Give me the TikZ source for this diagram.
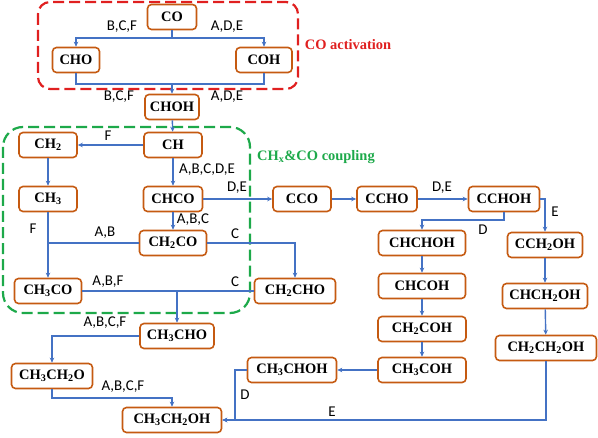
\documentclass[tikz,border=0pt]{standalone}
\usepackage{fontspec}
\setmainfont{Liberation Serif}
\newfontfamily\labfont{Carlito}
\usetikzlibrary{arrows.meta}
\definecolor{lineblue}{HTML}{4472C4}
\definecolor{boxbrown}{HTML}{C55A11}
\definecolor{dashred}{HTML}{E02020}
\definecolor{dashgreen}{HTML}{1DA94A}
\begin{document}
\begin{tikzpicture}[x=1bp,y=-1bp,
  box/.style={draw=boxbrown,line width=1.6bp,rounded corners=4bp,fill=white,
    minimum height=25bp,inner sep=0pt,font=\fontsize{14.5}{16}\selectfont\bfseries},
  lab/.style={inner sep=0pt,font=\labfont\fontsize{15}{16}\selectfont},
  conn/.style={draw=lineblue,line width=1.4bp},
  arr/.style={conn,-{Stealth[length=5bp,width=4.5bp]}},
  region/.style={line width=2.2bp,dash pattern=on 11bp off 5bp}]
\useasboundingbox (0,0) rectangle (598,438);
% dashed regions
\draw[region,draw=dashred,rounded corners=12bp] (38,2) rectangle (298,89);
\draw[region,draw=dashgreen,rounded corners=20bp] (3,127) rectangle (250,313);
\node[inner sep=0pt,text=dashred,font=\fontsize{14.5}{16}\selectfont\bfseries] (tact) at (348,45) {CO activation};
\node[inner sep=0pt,text=dashgreen,font=\fontsize{14.5}{16}\selectfont\bfseries] (tcoup) at (316,157) {CH\textsubscript{x}\&CO coupling};
% nodes
\node[box,minimum width=49bp] (CO) at (172,17) {CO};
\node[box,minimum width=47bp] (CHO) at (76,60) {CHO};
\node[box,minimum width=56bp] (COH) at (264,60) {COH};
\node[box,minimum width=54bp] (CHOH) at (172,107) {CHOH};
\node[box,minimum width=58bp] (CH2) at (48,145) {CH\textsubscript{2}};
\node[box,minimum width=58bp] (CH) at (173,145) {CH};
\node[box,minimum width=58bp] (CH3) at (48,199) {CH\textsubscript{3}};
\node[box,minimum width=59bp] (CHCO) at (173,199) {CHCO};
\node[box,minimum width=67bp] (CH2CO) at (173,243) {CH\textsubscript{2}CO};
\node[box,minimum width=67bp] (CH3CO) at (48,291) {CH\textsubscript{3}CO};
\node[box,minimum width=81bp] (CH2CHO) at (295,291) {CH\textsubscript{2}CHO};
\node[box,minimum width=58bp] (CCO) at (302,199) {CCO};
\node[box,minimum width=60bp] (CCHO) at (387,199) {CCHO};
\node[box,minimum width=71bp] (CCHOH) at (504,199) {CCHOH};
\node[box,minimum width=87bp] (CHCHOH) at (422,243) {CHCHOH};
\node[box,minimum width=75bp] (CCH2OH) at (545,245) {CCH\textsubscript{2}OH};
\node[box,minimum width=87bp] (CHCOH) at (422,286) {CHCOH};
\node[box,minimum width=85bp] (CHCH2OH) at (545,296) {CHCH\textsubscript{2}OH};
\node[box,minimum width=88bp] (CH2COH) at (422,329) {CH\textsubscript{2}COH};
\node[box,minimum width=88bp] (CH3COH) at (422,370) {CH\textsubscript{3}COH};
\node[box,minimum width=89bp] (CH3CHOH) at (292,370) {CH\textsubscript{3}CHOH};
\node[box,minimum width=101bp] (CH2CH2OH) at (546,348) {CH\textsubscript{2}CH\textsubscript{2}OH};
\node[box,minimum width=74bp] (CH3CHO) at (177,336) {CH\textsubscript{3}CHO};
\node[box,minimum width=81bp] (CH3CH2O) at (52,376) {CH\textsubscript{3}CH\textsubscript{2}O};
\node[box,minimum width=99bp] (CH3CH2OH) at (172,420) {CH\textsubscript{3}CH\textsubscript{2}OH};
% junctions
\coordinate (s1) at (172,38);
\coordinate (j1) at (172,84);
\coordinate (j2) at (48,243);
\coordinate (j3) at (177,291);
\coordinate (j4) at (172,398);
\coordinate (j5) at (235,420);
\coordinate (j6) at (504,220);
% connectors
\draw[conn] (CO.south) -- (s1);
\draw[arr] (s1) -| (CHO.north);
\draw[arr] (s1) -| (COH.north);
\draw[conn] (CHO.south) |- (j1) -| (COH.south);
\draw[arr] (j1) -- (CHOH.north);
\draw[arr] (CHOH) -- (CH);
\draw[arr] (CH) -- (CH2);
\draw[arr] (CH2) -- (CH3);
\draw[arr] (CH) -- (CHCO);
\draw[arr] (CHCO) -- (CCO);
\draw[arr] (CHCO) -- (CH2CO);
\draw[arr] (CH3) -- (CH3CO);
\draw[conn] (CH2CO.west) -- (j2);
\draw[arr] (CH2CO.east) -| (CH2CHO.north);
\draw[conn] (CH3CO.east) -- (CH2CHO.west);
\draw[arr] (j3) -- (CH3CHO.north);
\draw[arr] (CH3CHO.west) -| (CH3CH2O.north);
\draw[arr] (CH3CH2O.south) |- (j4) -- (CH3CH2OH.north);
\draw[arr] (CCO) -- (CCHO);
\draw[arr] (CCHO) -- (CCHOH);
\draw[arr] (CCHOH.south) -- (j6) -| (CHCHOH.north);
\draw[arr] (CCHOH.east) -| (CCH2OH.north);
\draw[arr] (CHCHOH) -- (CHCOH);
\draw[arr] (CHCOH) -- (CH2COH);
\draw[arr] (CH2COH) -- (CH3COH);
\draw[arr] (CH3COH) -- (CH3CHOH);
\draw[arr] (CCH2OH) -- (CHCH2OH);
\draw[arr] (CHCH2OH) -- (CH2CH2OH);
\draw[arr] (CH2CH2OH.south) |- (CH3CH2OH.east);
\draw[arr] (CH3CHOH.west) -| (j5) -- (CH3CH2OH.east);
% labels
\node[lab] (l1) at (122,27) {B,C,F};
\node[lab] (l2) at (227,27) {A,D,E};
\node[lab] (l3) at (119,97) {B,C,F};
\node[lab] (l4) at (227,97) {A,D,E};
\node[lab] (l5) at (108,136) {F};
\node[lab] (l6) at (207,170) {A,B,C,D,E};
\node[lab] (l7) at (237,188) {D,E};
\node[lab] (l8) at (193,220) {A,B,C};
\node[lab] (l9) at (33,229) {F};
\node[lab] (l10) at (105,233) {A,B};
\node[lab] (l11) at (235,234) {C};
\node[lab] (l12) at (108,282) {A,B,F};
\node[lab] (l13) at (235,282) {C};
\node[lab] (l14) at (105,323) {A,B,C,F};
\node[lab] (l15) at (123,387) {A,B,C,F};
\node[lab] (l16) at (245,395) {D};
\node[lab] (l17) at (332,412) {E};
\node[lab] (l18) at (442,188) {D,E};
\node[lab] (l19) at (483,230) {D};
\node[lab] (l20) at (555,212) {E};
\end{tikzpicture}
\end{document}
